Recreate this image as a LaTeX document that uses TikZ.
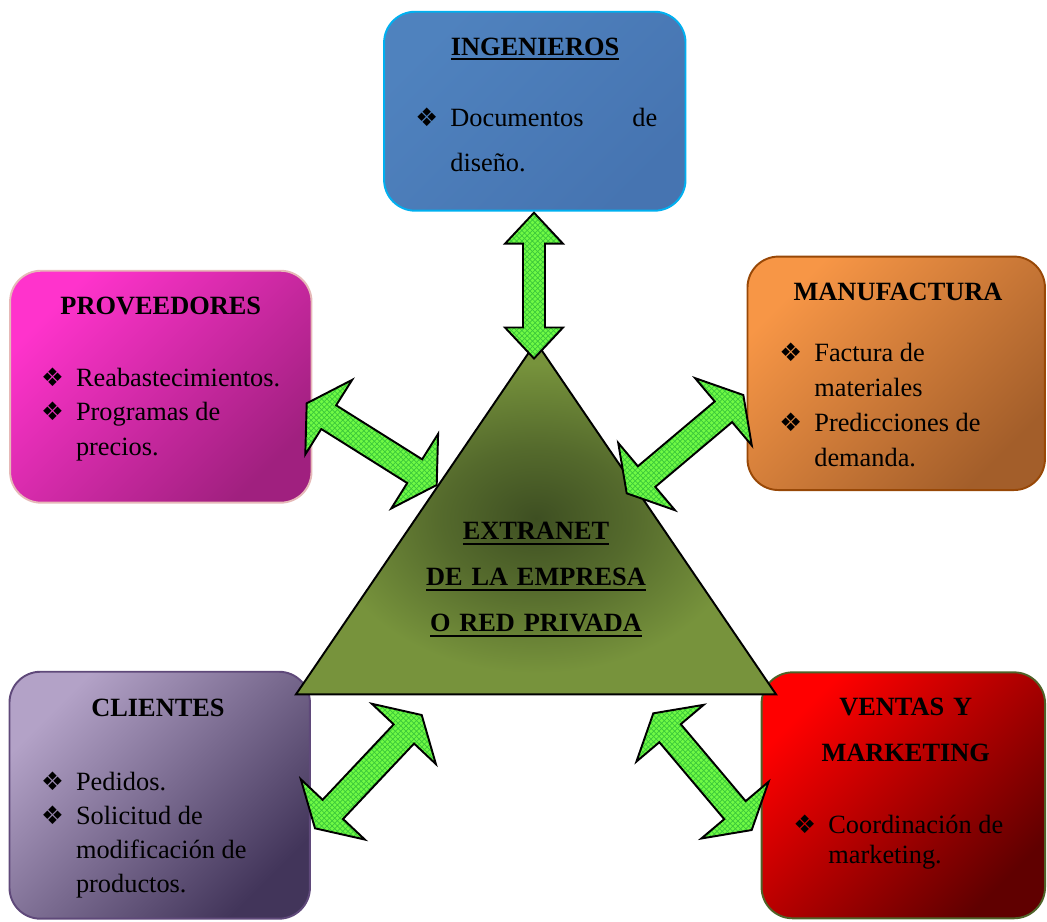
\documentclass[tikz,border=0pt]{standalone}
\usepackage{fontspec}
\setmainfont{Liberation Serif}
\newfontfamily\bulfont{DejaVu Sans}
\usetikzlibrary{calc,patterns}

\definecolor{ingtop}{HTML}{4F82BE}
\definecolor{ingbot}{HTML}{4674B1}
\definecolor{ingline}{HTML}{00B0F0}
\definecolor{provtop}{HTML}{FF33CC}
\definecolor{provbot}{HTML}{A0207F}
\definecolor{provline}{HTML}{E6B9B8}
\definecolor{mantop}{HTML}{F79646}
\definecolor{manbot}{HTML}{A35E2A}
\definecolor{manline}{HTML}{984807}
\definecolor{clitop}{HTML}{B3A2C7}
\definecolor{clibot}{HTML}{42355A}
\definecolor{cliline}{HTML}{5F497A}
\definecolor{ventop}{HTML}{FF0000}
\definecolor{venbot}{HTML}{600000}
\definecolor{venline}{HTML}{4F6228}
\definecolor{trigreen}{HTML}{77933C}
\definecolor{tridark}{HTML}{3E4F22}
\definecolor{arrgreen}{HTML}{70FA45}
\definecolor{arrgrid}{HTML}{3CC83A}

\pgfdeclareradialshading{trishade}{\pgfpoint{0bp}{0bp}}{color(0bp)=(tridark); color(10bp)=(tridark!60!trigreen); color(22bp)=(trigreen); color(50bp)=(trigreen)}

\newlength{\bulind}\setlength{\bulind}{0.7cm}
\newcommand{\bul}{{\bulfont\fontsize{14.5}{12}\selectfont ❖}}
\newcommand{\itemline}[1]{\hangindent=\bulind\hangafter=1\makebox[\bulind][l]{\bul}#1\par}
\newcommand{\undl}[1]{\leavevmode\setbox0\hbox{#1}\rlap{\rule[-3pt]{\wd0}{1.1pt}}\box0}

% #3 head length, #4 half shaft, #5 half head
\newcommand{\dblarrow}[5]{%
  \draw[arrowblk] (#1)
    -- ($(#1)!#3!(#2)!#5!90:(#2)$)
    -- ($(#1)!#3!(#2)!#4!90:(#2)$)
    -- ($(#2)!#3!(#1)!#4!-90:(#1)$)
    -- ($(#2)!#3!(#1)!#5!-90:(#1)$)
    -- (#2)
    -- ($(#2)!#3!(#1)!#5!90:(#1)$)
    -- ($(#2)!#3!(#1)!#4!90:(#1)$)
    -- ($(#1)!#3!(#2)!#4!-90:(#2)$)
    -- ($(#1)!#3!(#2)!#5!-90:(#2)$)
    -- cycle;}

\begin{document}
\begin{tikzpicture}[x=0.02cm, y=-0.02cm,
    box/.style={rounded corners=0.62cm, line width=1.1pt, inner sep=0pt},
    shade2/.style 2 args={top color=#1, bottom color=#2, shading angle=45},
    head/.style={anchor=base, inner sep=0pt, text width=5.6cm, align=center,
                 font=\fontsize{15}{26.5}\selectfont\bfseries},
    body/.style={anchor=base west, inner sep=0pt, text width=#1, align=flush left},
    tri/.style={draw=black, line width=1.1pt, line join=miter, shading=trishade},
    arrowblk/.style={draw=black, line width=1.1pt, line join=miter,
                     preaction={fill=arrgreen}, pattern=crosshatch, pattern color=arrgrid}]

\useasboundingbox (0,0) rectangle (1047,921);

\node[box, draw=ingline, shade2={ingtop}{ingbot}, minimum width=6.03cm, minimum height=3.98cm] (ing) at (534.8,111.2) {};
\node[box, draw=provline, shade2={provtop}{provbot}, minimum width=6.03cm, minimum height=4.64cm] (prov) at (160.8,386.7) {};
\node[box, draw=manline, shade2={mantop}{manbot}, minimum width=5.95cm, minimum height=4.67cm] (man) at (896.2,373.3) {};
\node[box, draw=cliline, shade2={clitop}{clibot}, minimum width=6.01cm, minimum height=4.94cm] (cli) at (159.7,795.2) {};
\node[box, draw=venline, shade2={ventop}{venbot}, minimum width=5.67cm, minimum height=4.92cm] (ven) at (903.3,795.3) {};

\node[head] (ingT)  at (535,55)     {\undl{INGENIEROS}};
\node[head] (provT) at (160.8,314)  {PROVEEDORES};
\node[head] (manT)  at (898,300.7)  {MANUFACTURA};
\node[head] (cliT)  at (158,716.7)  {CLIENTES};
\node[head] (venT)  at (905.7,715)  {VENTAS Y\\MARKETING};

\node[body=4.84cm, align=justify, font=\fontsize{15}{25.5}\selectfont] (ingB) at (415,126.7)
  {\itemline{Documentos de\linebreak diseño.}};
\node[body=5.4cm, font=\fontsize{15}{19.45}\selectfont] (provB) at (40.7,386.7)
  {\itemline{Reabastecimientos.}\itemline{Programas de\newline precios.}};
\node[body=5cm, font=\fontsize{15}{19.85}\selectfont] (manB) at (779,361.7)
  {\itemline{Factura de\newline materiales}\itemline{Predicciones de\newline demanda.}};
\node[body=5cm, font=\fontsize{15}{19.5}\selectfont] (cliB) at (40.7,790)
  {\itemline{Pedidos.}\itemline{Solicitud de\newline modificación de\newline productos.}};
\node[body=5cm, font=\fontsize{15}{17.4}\selectfont] (venB) at (793,833.3)
  {\itemline{Coordinación de\newline marketing.}};

\coordinate (apex) at (536,342);
\coordinate (bl) at (296,694.3);
\coordinate (br) at (776,694.3);
\draw[tri] (apex) -- (bl) -- (br) -- cycle;

\node[head, text width=8cm, font=\fontsize{15}{26.2}\selectfont\bfseries] (ext) at (536,539.3)
  {\undl{EXTRANET}\\\undl{DE LA EMPRESA}\\\undl{O RED PRIVADA}};

\coordinate (a1) at (534,212.7);   \coordinate (b1) at (534,358.5);
\coordinate (a2) at (306.7,403.3); \coordinate (b2) at (436.7,485);
\coordinate (a3) at (743.3,395);   \coordinate (b3) at (626.7,493.3);
\coordinate (a4) at (421.7,715);   \coordinate (b4) at (315,828.3);
\coordinate (a5) at (653.3,713.3); \coordinate (b5) at (751.7,830);

\dblarrow{a1}{b1}{0.62cm}{0.22cm}{0.58cm}
\dblarrow{a2}{b2}{0.52cm}{0.28cm}{0.88cm}
\dblarrow{a3}{b3}{0.52cm}{0.27cm}{0.88cm}
\dblarrow{a4}{b4}{0.52cm}{0.28cm}{0.88cm}
\dblarrow{a5}{b5}{0.52cm}{0.28cm}{0.88cm}

\end{tikzpicture}
\end{document}
